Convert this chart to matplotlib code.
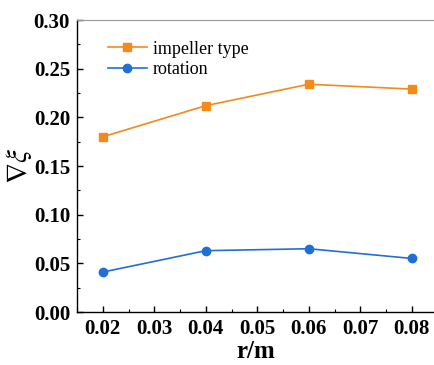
import matplotlib
matplotlib.use("Agg")
import matplotlib.pyplot as plt
from matplotlib.ticker import MultipleLocator

r = [0.02, 0.04, 0.06, 0.08]
impeller = [0.180, 0.212, 0.234, 0.229]
rotation = [0.041, 0.063, 0.065, 0.055]
xticks = [0.02, 0.03, 0.04, 0.05, 0.06, 0.07, 0.08]
yticks = [0.00, 0.05, 0.10, 0.15, 0.20, 0.25, 0.30]

plt.rcParams['font.family'] = ['Liberation Serif', 'DejaVu Serif']
plt.rcParams['mathtext.fontset'] = 'stix'

fig = plt.figure(figsize=(4.35, 3.65), dpi=100)
ax = fig.add_axes([77/435, 53/365, 358/435, 292/365])

ax.plot(r, impeller, color='#F28A1C', marker='s', markersize=5.5, lw=1.2, label='impeller type')
ax.plot(r, rotation, color='#1F6FD6', marker='o', markersize=6, lw=1.2, label='rotation')

ax.set_xlim(0.015, 0.0845)
ax.set_ylim(0.0, 0.30)
ax.set_xticks(xticks)
ax.set_yticks(yticks)
ax.set_xticklabels([f"{v:.2f}" for v in xticks])
ax.set_yticklabels([f"{v:.2f}" for v in yticks])
ax.xaxis.set_minor_locator(MultipleLocator(0.005))
ax.yaxis.set_minor_locator(MultipleLocator(0.025))
ax.tick_params(which='major', direction='in', length=4, width=1, labelsize=15, pad=5)
ax.tick_params(which='minor', direction='in', length=2, width=0.8)
for lab in ax.get_xticklabels() + ax.get_yticklabels():
    lab.set_fontweight('bold')

ax.spines['right'].set_visible(False)
ax.spines['top'].set_color('#999999')
ax.spines['left'].set_linewidth(1.0)
ax.spines['bottom'].set_linewidth(1.0)

ax.set_xlabel('r/m', fontsize=18, fontweight='bold', labelpad=1)
ax.set_ylabel(r'$\nabla\xi$', fontsize=21, labelpad=0)

ax.legend(loc='upper left', bbox_to_anchor=(0.04, 0.985), frameon=False, fontsize=13,
          handlelength=2.2, handletextpad=0.3, labelspacing=0.2)

fig.savefig('out.png', dpi=100)
